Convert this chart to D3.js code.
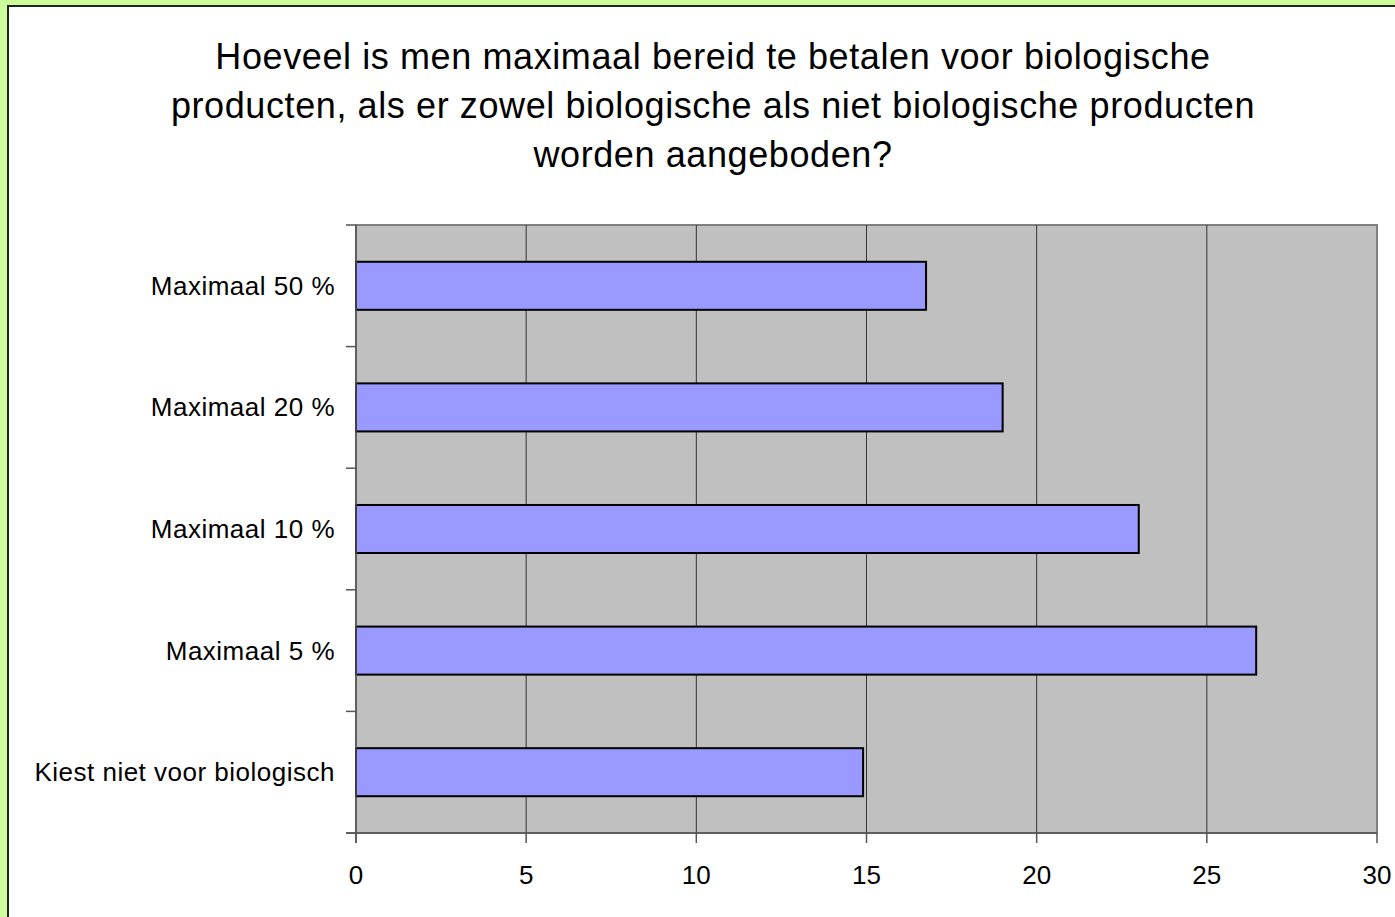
<!DOCTYPE html>
<html>
<head>
<meta charset="utf-8">
<script src="https://cdn.jsdelivr.net/npm/d3@7"></script>
<style>
  body { margin: 0; background: #ccff99; }
  #chart { position: absolute; left: 0; top: 0; }
</style>
</head>
<body>
<div id="chart"></div>
<script>
// data
var categories = ["Kiest niet voor biologisch", "Maximaal 5 %", "Maximaal 10 %", "Maximaal 20 %", "Maximaal 50 %"];
var values = [14.9, 26.45, 23.0, 19.0, 16.75];
var xTicks = [0, 5, 10, 15, 20, 25, 30];
var titleLines = [
    "Hoeveel is men maximaal bereid te betalen voor biologische",
    "producten, als er zowel biologische als niet biologische producten",
    "worden aangeboden?"
];

var width = 1395, height = 917;
var plot = { left: 356, right: 1377, top: 225, bottom: 833 };
var font = "'Liberation Sans', Arial, sans-serif";

var svg = d3.select("#chart").append("svg")
    .attr("width", width)
    .attr("height", height);

// white panel with dark edge
svg.append("rect")
    .attr("x", 7).attr("y", 5)
    .attr("width", width).attr("height", height)
    .attr("fill", "white");
svg.append("path")
    .attr("d", `M8,${height} V6 H${width}`)
    .attr("fill", "none")
    .attr("stroke", "#222")
    .attr("stroke-width", 2);

// title
svg.append("text")
    .attr("text-anchor", "middle")
    .attr("font-family", font)
    .attr("font-size", "36px")
    .attr("letter-spacing", "0.6px")
    .attr("fill", "black")
    .selectAll("tspan")
    .data(titleLines)
    .enter()
    .append("tspan")
    .attr("x", 713)
    .attr("y", (d, i) => 69 + i * 49)
    .text(d => d);

// scales
var x = d3.scaleLinear().domain([0, 30]).range([plot.left, plot.right]);
var y = d3.scaleBand().domain(categories.slice().reverse())
    .range([plot.top, plot.bottom])
    .paddingInner(0.605).paddingOuter(0.3025);

// plot background
svg.append("rect")
    .attr("x", plot.left).attr("y", plot.top)
    .attr("width", plot.right - plot.left)
    .attr("height", plot.bottom - plot.top)
    .attr("fill", "#c0c0c0")
    .attr("stroke", "#808080")
    .attr("stroke-width", 2);

// grid lines
svg.selectAll("line.grid")
    .data(xTicks.slice(1, -1))
    .enter()
    .append("line")
    .attr("class", "grid")
    .attr("x1", d => x(d)).attr("x2", d => x(d))
    .attr("y1", plot.top).attr("y2", plot.bottom)
    .attr("stroke", "#333")
    .attr("stroke-width", 1);

// bars
svg.selectAll("rect.bar")
    .data(values)
    .enter()
    .append("rect")
    .attr("class", "bar")
    .attr("x", x(0))
    .attr("y", (d, i) => y(categories[i]))
    .attr("width", d => x(d) - x(0))
    .attr("height", y.bandwidth())
    .attr("fill", "#9999ff")
    .attr("stroke", "black")
    .attr("stroke-width", 2);

// y axis line and ticks at band boundaries
var step = (plot.bottom - plot.top) / categories.length;
svg.append("line")
    .attr("x1", plot.left).attr("x2", plot.left)
    .attr("y1", plot.top).attr("y2", plot.bottom + 10)
    .attr("stroke", "#555").attr("stroke-width", 1.5);
svg.selectAll("line.ytick")
    .data(d3.range(categories.length + 1))
    .enter()
    .append("line")
    .attr("x1", plot.left - 10).attr("x2", plot.left)
    .attr("y1", d => plot.top + d * step).attr("y2", d => plot.top + d * step)
    .attr("stroke", "#555").attr("stroke-width", 1.5);

// x axis line and ticks
svg.append("line")
    .attr("x1", plot.left - 10).attr("x2", plot.right)
    .attr("y1", plot.bottom).attr("y2", plot.bottom)
    .attr("stroke", "#555").attr("stroke-width", 1.5);
svg.selectAll("line.xtick")
    .data(xTicks)
    .enter()
    .append("line")
    .attr("x1", d => x(d)).attr("x2", d => x(d))
    .attr("y1", plot.bottom).attr("y2", plot.bottom + 10)
    .attr("stroke", "#555").attr("stroke-width", 1.5);

// labels
svg.selectAll("text.xlabel")
    .data(xTicks)
    .enter()
    .append("text")
    .attr("x", d => x(d))
    .attr("y", 884)
    .attr("text-anchor", "middle")
    .attr("font-family", font)
    .attr("font-size", "26px")
    .text(d => d);

svg.selectAll("text.ylabel")
    .data(categories)
    .enter()
    .append("text")
    .attr("x", 335)
    .attr("y", d => y(d) + y.bandwidth() / 2 + 9)
    .attr("text-anchor", "end")
    .attr("font-family", font)
    .attr("font-size", "26px")
    .attr("letter-spacing", "0.5px")
    .text(d => d);
</script>
</body>
</html>
